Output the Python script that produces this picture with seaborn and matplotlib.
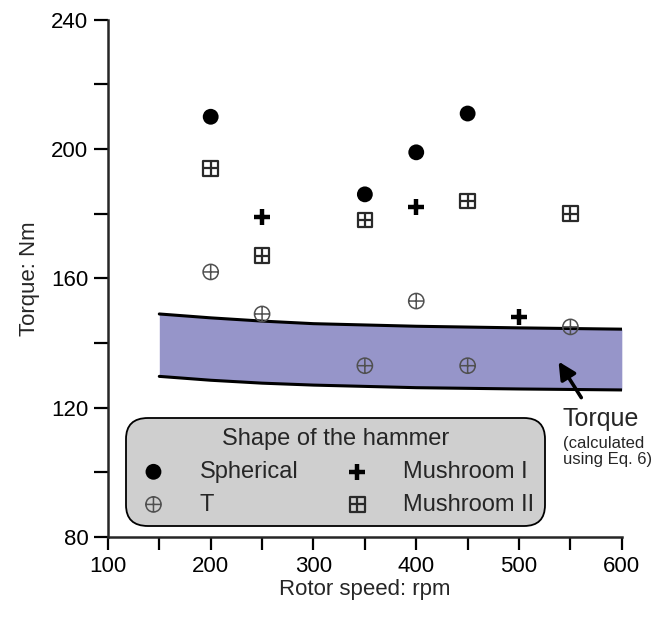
import numpy as np
import pandas as pd
import matplotlib
matplotlib.use("Agg")
import matplotlib.pyplot as plt
import seaborn as sns
from matplotlib.ticker import MultipleLocator
from matplotlib.path import Path

sns.set_style("ticks")
plt.rcParams['font.family'] = ['Liberation Sans', 'DejaVu Sans']

# ---- data ----
sph_x = [200, 350, 400, 450]
sph_y = [210, 186, 199, 211]
m1_x = [250, 400, 500]
m1_y = [179, 182, 148]
t_x = [200, 250, 350, 400, 450, 550]
t_y = [162, 149, 133, 153, 133, 145]
m2_x = [200, 250, 350, 450, 550]
m2_y = [194, 167, 178, 184, 180]

band_x = [150, 200, 250, 300, 400, 500, 600]
band_hi = [149.0, 147.8, 146.8, 146.0, 145.2, 144.7, 144.3]
band_lo = [129.7, 128.5, 127.6, 127.0, 126.2, 125.8, 125.5]

series_order = ["Spherical", "T", "Mushroom I", "Mushroom II"]

df = pd.concat([
    pd.DataFrame({"x": sph_x, "y": sph_y, "shape": "Spherical"}),
    pd.DataFrame({"x": t_x, "y": t_y, "shape": "T"}),
    pd.DataFrame({"x": m1_x, "y": m1_y, "shape": "Mushroom I"}),
    pd.DataFrame({"x": m2_x, "y": m2_y, "shape": "Mushroom II"}),
], ignore_index=True)

# custom marker shapes: circle with cross, square with cross
circ = Path.unit_circle()
cross = Path([(-1, 0), (1, 0), (0, -1), (0, 1)],
             [Path.MOVETO, Path.LINETO, Path.MOVETO, Path.LINETO])
oplus = Path.make_compound_path(circ, cross)
square = Path([(-1, -1), (1, -1), (1, 1), (-1, 1), (-1, -1)],
              [Path.MOVETO, Path.LINETO, Path.LINETO, Path.LINETO, Path.CLOSEPOLY])
boxplus = Path.make_compound_path(square, cross)

fig = plt.figure(figsize=(6.58, 6.18), dpi=100)
ax = fig.add_axes([0.164, 0.131, 0.781, 0.837])

# band
ax.fill_between(band_x, band_lo, band_hi, color="#9695c9", lw=0, zorder=1)
ax.plot(band_x, band_hi, color="black", lw=2.2, zorder=2)
ax.plot(band_x, band_lo, color="black", lw=2.2, zorder=2)

palette = {"Spherical": "black", "T": "#505050", "Mushroom I": "black", "Mushroom II": "#2a2a2a"}

for name in series_order:
    sub = df[df["shape"] == name]
    if name == "Mushroom I":
        kw = dict(marker="+", linewidths=3.2, s=120, color=palette[name])
    elif name == "Spherical":
        kw = dict(marker="o", edgecolor="none", s=130, color=palette[name])
    elif name == "Mushroom II":
        kw = dict(marker=boxplus, facecolors="none", edgecolors=palette[name],
                  linewidths=1.6, s=110)
    else:
        kw = dict(marker=oplus, facecolors="none", edgecolors=palette[name],
                  linewidths=1.1, s=120)
    sns.scatterplot(data=sub, x="x", y="y", ax=ax, label=name, zorder=3, **kw)

ax.set_xlim(100, 600)
ax.set_ylim(80, 240)
ax.xaxis.set_major_locator(MultipleLocator(100))
ax.xaxis.set_minor_locator(MultipleLocator(50))
ax.yaxis.set_major_locator(MultipleLocator(40))
ax.yaxis.set_minor_locator(MultipleLocator(20))
ax.tick_params(axis="both", which="both", direction="out", width=1.6, labelsize=16, colors="black")
ax.tick_params(axis="y", which="both", length=10, pad=4)
ax.tick_params(axis="x", which="both", length=9, pad=5)
for sp in ["top", "right"]:
    ax.spines[sp].set_visible(False)
for sp in ["left", "bottom"]:
    ax.spines[sp].set_linewidth(1.8)
ax.set_xlabel("Rotor speed: rpm", fontsize=16, labelpad=1)
ax.set_ylabel("Torque: Nm", fontsize=16, labelpad=8)

handles, labels = ax.get_legend_handles_labels()
order = [labels.index(n) for n in series_order]
leg = ax.legend([handles[i] for i in order], [labels[i] for i in order],
                title="Shape of the hammer", ncol=2, loc="lower left",
                bbox_to_anchor=(0.045, 0.03), fontsize=17, title_fontsize=17,
                frameon=True, fancybox=True, facecolor="#cfcfcf", edgecolor="black",
                framealpha=1, handletextpad=1.25, columnspacing=1.8,
                borderpad=0.25, labelspacing=0.45, handlelength=1.4, borderaxespad=0.0)
leg.get_frame().set_linewidth(1.3)
leg.get_frame().set_boxstyle("round,pad=0.2,rounding_size=0.9")

ax.annotate("", xy=(537, 135), xytext=(562, 122.4),
            arrowprops=dict(arrowstyle="-|>", lw=2.6, color="black", mutation_scale=26),
            zorder=4, annotation_clip=False)
ax.text(542.5, 116.5, "Torque", fontsize=18, ha="left", va="center", clip_on=False)
ax.text(542.5, 111.2, "(calculated\nusing Eq. 6)", fontsize=12, ha="left", va="top",
        clip_on=False, linespacing=1.05)

fig.savefig("out.png", dpi=100)
